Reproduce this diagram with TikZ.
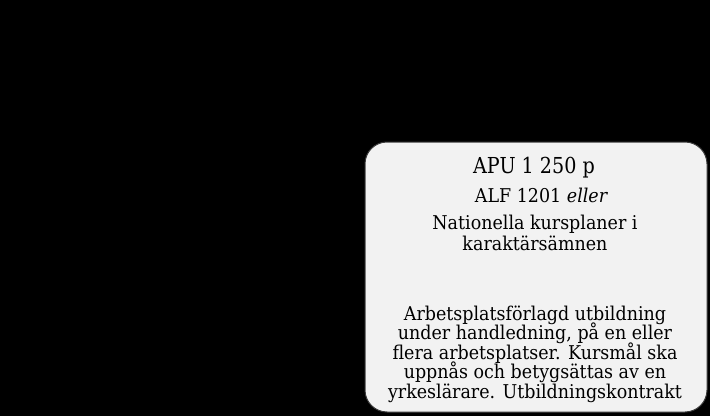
\documentclass[tikz,border=0pt]{standalone}
\usepackage{fontspec}
\setmainfont[FakeStretch=0.92]{DejaVu Serif}
\newfontfamily\bigfont[FakeStretch=0.87]{DejaVu Serif}
\definecolor{boxfill}{HTML}{F2F2F2}
\definecolor{boxline}{HTML}{3A3A3A}
\tikzset{
  panel/.style={draw=boxline, line width=1pt, fill=boxfill, rounded corners=22pt},
  txt/.style={anchor=base, inner sep=0pt, font=\fontsize{19}{21}\selectfont},
  big/.style={anchor=base, inner sep=0pt, font=\bigfont\fontsize{22}{25}\selectfont}
}
\begin{document}
\begin{tikzpicture}[x=1pt,y=1pt]
\fill[black] (0,0) rectangle (710,416);
\useasboundingbox (0,0) rectangle (710,416);
\draw[panel] (365,4) rectangle (707,274);
\node[big] (t1) at (534,243) {APU 1 250 p};
\node[txt] (t2) at (541.5,214) {ALF 1201 \textit{eller}};
\node[txt] (t3) at (535,187) {Nationella kursplaner i};
\node[txt] (t4) at (535,166) {karaktärsämnen};
\node[txt] (b1) at (535,96) {Arbetsplatsförlagd utbildning};
\node[txt] (b2) at (535,76.5) {under handledning, på en eller};
\node[txt] (b3) at (535,57) {flera arbetsplatser. Kursmål ska};
\node[txt] (b4) at (535,37.5) {uppnås och betygsättas av en};
\node[txt] (b5) at (535,18) {yrkeslärare. Utbildningskontrakt};
\end{tikzpicture}
\end{document}
